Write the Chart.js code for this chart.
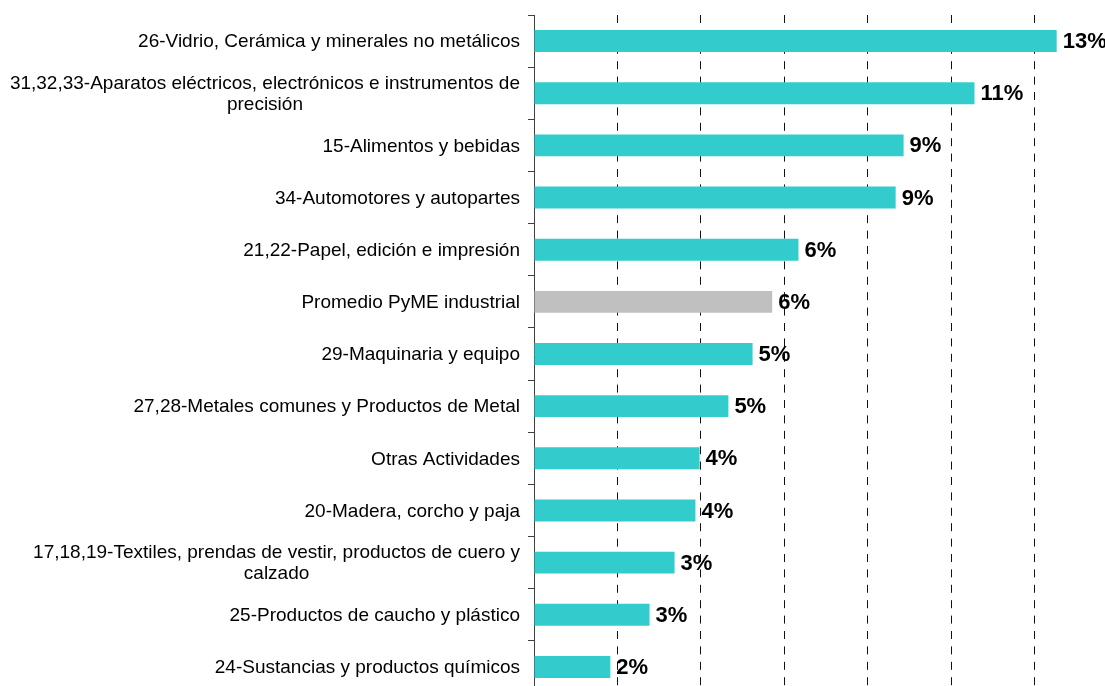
<!DOCTYPE html>
<html>
<head>
<meta charset="utf-8">
<script src="https://cdn.jsdelivr.net/npm/chart.js@4.4.1/dist/chart.umd.min.js"></script>
<style>
  html, body { margin: 0; padding: 0; background: #fff; overflow: hidden; }
  #wrap { width: 1120px; height: 700px; }
</style>
</head>
<body>
<div id="wrap"><canvas id="sectorChart" width="1120" height="700"></canvas></div>
<script>
// Categorías (cada una puede tener varias líneas)
const categories = [
  ['26-Vidrio, Cerámica y minerales no metálicos'],
  ['31,32,33-Aparatos eléctricos, electrónicos e instrumentos de', 'precisión'],
  ['15-Alimentos y bebidas'],
  ['34-Automotores y autopartes'],
  ['21,22-Papel, edición e impresión'],
  ['Promedio PyME industrial'],
  ['29-Maquinaria y equipo'],
  ['27,28-Metales comunes y Productos de Metal'],
  ['Otras Actividades'],
  ['20-Madera, corcho y paja'],
  ['17,18,19-Textiles, prendas de vestir, productos de cuero y', 'calzado'],
  ['25-Productos de caucho y plástico'],
  ['24-Sustancias y productos químicos']
];

// Valores (%)
const values = [12.53, 10.56, 8.86, 8.67, 6.34, 5.71, 5.24, 4.66, 3.97, 3.87, 3.37, 2.77, 1.83];

// Eje X: 0 a 14, cada 2
const xTicks = [0, 2, 4, 6, 8, 10, 12, 14];

const AVERAGE_LABEL = 'Promedio PyME industrial';
const TEAL = '#33CCCC';
const GREY = '#C0C0C0';
const FONT = '"Liberation Sans", Arial, sans-serif';

/**
 * Dibuja las etiquetas de categoría: bloque alineado a la derecha, líneas centradas
 */
const categoryLabels = {
  id: 'categoryLabels',
  afterDraw(chart) {
    const ctx = chart.ctx;
    const yScale = chart.scales.y;
    ctx.save();
    ctx.font = '19px ' + FONT;
    ctx.fillStyle = '#000';
    ctx.textBaseline = 'middle';
    ctx.textAlign = 'center';
    categories.forEach((lines, i) => {
      const y = yScale.getPixelForValue(i);
      const block = Math.max(...lines.map(l => ctx.measureText(l).width));
      const cx = yScale.right - 14 - block / 2;
      lines.forEach((line, j) => {
        ctx.fillText(line, cx, y + 1 + (j - (lines.length - 1) / 2) * 21);
      });
    });
    ctx.restore();
  }
};

/**
 * Etiquetas de valor al final de cada barra
 */
const valueLabels = {
  id: 'valueLabels',
  afterDatasetsDraw(chart) {
    const ctx = chart.ctx;
    const meta = chart.getDatasetMeta(0);
    ctx.save();
    ctx.font = 'bold 22px ' + FONT;
    ctx.fillStyle = '#000';
    ctx.textBaseline = 'middle';
    ctx.textAlign = 'left';
    meta.data.forEach((bar, i) => {
      ctx.fillText(Math.round(values[i]) + '%', bar.x + 6, bar.y + 1);
    });
    ctx.restore();
  }
};

new Chart(document.getElementById('sectorChart'), {
  type: 'bar',
  data: {
    labels: categories,
    datasets: [{
      data: values,
      backgroundColor: categories.map(c => c[0] === AVERAGE_LABEL ? GREY : TEAL),
      borderWidth: 0,
      barPercentage: 0.42,
      categoryPercentage: 1
    }]
  },
  options: {
    indexAxis: 'y',
    responsive: false,
    animation: false,
    layout: { padding: { top: 15, right: 2, bottom: 7, left: 0 } },
    plugins: {
      legend: { display: false },
      tooltip: { enabled: false }
    },
    scales: {
      x: {
        type: 'linear',
        min: xTicks[0],
        max: xTicks[xTicks.length - 1],
        afterBuildTicks: scale => { scale.ticks = xTicks.map(v => ({ value: v })); },
        afterFit: scale => { scale.height = 0; },
        ticks: { display: false },
        border: { display: false, dash: [8, 7.4] },
        grid: {
          drawTicks: false,
          lineWidth: 1,
          color: c => (c.tick && c.tick.value === 0) ? 'rgba(0,0,0,0)' : '#111'
        }
      },
      y: {
        afterFit: scale => { scale.width = 534; },
        ticks: { display: false },
        border: { display: true, color: '#404040', width: 1 },
        grid: {
          offset: true,
          drawOnChartArea: false,
          drawTicks: true,
          tickLength: 6,
          tickColor: '#404040'
        }
      }
    }
  },
  plugins: [categoryLabels, valueLabels]
});
</script>
</body>
</html>
